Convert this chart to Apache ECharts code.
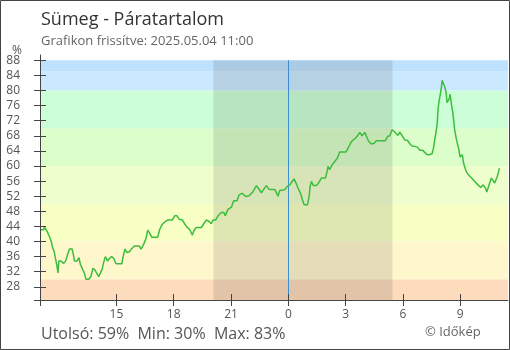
<!DOCTYPE html>
<html>
<head>
<meta charset="utf-8">
<script src="https://cdn.jsdelivr.net/npm/echarts@6/dist/echarts.min.js"></script>
<style>
html,body{margin:0;padding:0;background:#fff;}
#chart{width:510px;height:350px;}
</style>
</head>
<body>
<div id="chart"></div>
<script>
// Hours since 2025-05-03 11:00
const hours = [0,0.19,0.23,0.30,0.40,0.49,0.58,0.66,0.75,0.80,0.89,0.94,0.99,1.10,1.24,1.34,1.45,1.54,1.68,1.76,1.80,1.94,2.04,2.11,2.23,2.32,2.41,2.55,2.67,2.77,2.88,2.98,3.07,3.16,3.25,3.33,3.42,3.54,3.63,3.75,3.86,3.98,4.28,4.36,4.45,4.55,4.68,4.80,4.94,5.20,5.29,5.43,5.55,5.64,5.72,5.86,6.16,6.26,6.35,6.44,6.58,6.70,6.93,7.05,7.17,7.28,7.45,7.57,7.70,7.84,7.98,8.06,8.18,8.45,8.57,8.71,8.85,8.97,9.06,9.20,9.32,9.49,9.62,9.70,9.84,10.02,10.14,10.31,10.42,10.59,10.77,10.94,11.15,11.33,11.43,11.59,11.71,11.85,11.99,12.29,12.46,12.55,12.81,12.95,13.08,13.20,13.30,13.41,13.51,13.65,13.74,13.83,14.00,14.09,14.14,14.21,14.31,14.47,14.61,14.73,14.94,15.03,15.08,15.17,15.29,15.43,15.57,15.69,16.01,16.13,16.27,16.39,16.53,16.65,16.74,16.86,17.00,17.09,17.21,17.35,17.49,17.61,18.08,18.19,18.31,18.43,18.57,18.66,18.74,18.83,18.92,19.01,19.09,19.23,19.36,19.48,19.62,19.76,19.88,20.02,20.14,20.27,20.40,20.53,20.61,20.66,20.73,20.79,20.84,20.89,20.94,21.01,21.05,21.10,21.19,21.26,21.31,21.36,21.42,21.47,21.54,21.61,21.66,21.71,21.78,21.85,21.92,21.99,22.06,22.11,22.16,22.23,22.32,22.44,22.58,22.76,22.93,23.07,23.18,23.25,23.32,23.39,23.46,23.54,23.63,23.72,23.80,23.87,23.94,24.01,24.05];
const humidity = [43.1,43.1,43.8,43.5,42.4,41.3,40.2,38.4,37.2,35.7,33.5,31.7,34.8,34.8,34.2,34.8,36.6,38,38,36.2,34.8,34.8,35.7,34,32.6,31.7,30,30,30.8,32.9,32.4,31.9,30.7,30.8,32.6,34.4,36,34.8,35.5,36,35.5,34.1,34.1,36.2,38,37.1,37.3,38.1,38.8,38.8,38,39.3,40.8,43,42.4,41.1,41.1,43.1,44.1,44.8,45.3,45.7,45.7,46.8,46.8,45.9,45.7,44.7,43.8,43.1,41.7,42.9,43.7,43.7,44.7,45.7,45.3,44.7,45.7,45.7,46.8,47.7,47.7,46.8,48.5,49.1,50.8,50.8,52.3,52.8,51.9,52.1,53.2,54.8,54.1,52.9,53.8,54.8,53.8,53.8,52.0,53.5,53.7,54.6,55.0,55.9,56.6,55.4,54.1,52.6,51.0,49.7,49.7,51.9,54.6,55.9,54.8,54.8,55.7,56.8,56.8,58.5,59.9,59.0,60.3,61.2,62.1,63.7,63.7,64.7,66.2,66.9,67.4,68.2,68.9,68.0,68.9,68.5,66.5,65.8,66.0,66.7,66.7,67.8,68.0,69.6,69.0,68.8,68.1,69.0,68.8,67.6,66.9,66.8,65.9,65.3,65.2,65.0,64.2,64.2,63.6,63.0,63.0,63.3,65.0,66.8,68.9,71.1,75.0,77.2,78.5,80.7,82.7,82.0,81.0,79.4,76.8,76.3,77.7,79.0,76.3,74.2,72.0,69.4,67.6,65.9,64.6,62.4,62.7,63.0,61.1,59.8,58.5,57.6,56.9,55.9,55.0,54.3,55.0,55.5,54.2,53.1,54.2,55.5,56.8,56.3,55.5,55.2,57.2,58.5,59.4];

const yTicks = [28,32,36,40,44,48,52,56,60,64,68,72,76,80,84,88];
const xTickHours = [4,7,10,13,16,19,22];          // 15,18,21,0,3,6,9 o'clock
const xTickLabels = ['15','18','21','0','3','6','9'];
const bandEdges = [24.5,30,40,50,60,70,80,85,88];
const bandColors = ['#fcdcbd','#fff7cc','#f7ffc4','#effecd','#dcfecb','#ccffd8','#cbe9fe','#bee2fd'];
const nightStart = 9.08;   // 20:05
const nightEnd = 18.45;    // 05:27
const midnight = 13;

const Y_MIN = 24.5, Y_MAX = 89.4, X_MAX = 24.5;
const FONT = "'Open Sans', 'Noto Sans', sans-serif";

const chart = echarts.init(document.getElementById('chart'), null, {renderer:'canvas'});

const bandAreas = bandColors.map((c,i)=>[
  {yAxis: bandEdges[i], itemStyle:{color:c}},
  {yAxis: bandEdges[i+1]}
]);

const option = {
  animation:false,
  grid:{left:40, right:2, top:55, bottom:50, containLabel:false},
  xAxis:[{
    type:'value', min:0, max:X_MAX, z:20,
    axisLine:{show:true, lineStyle:{color:'#444', width:1}},
    axisTick:{show:true, length:6, customValues:[0].concat(xTickHours), lineStyle:{color:'#444'}},
    axisLabel:{show:true, customValues:xTickHours, margin:9, color:'#555', fontSize:12, fontFamily:FONT,
      formatter:(v)=>xTickLabels[xTickHours.indexOf(v)]},
    splitLine:{show:false}
  },{
    type:'value', min:0, max:X_MAX, position:'bottom', z:20,
    axisLine:{show:false},
    axisTick:{show:true, inside:true, length:6, customValues:xTickHours, lineStyle:{color:'#444'}},
    axisLabel:{show:false}, splitLine:{show:false}
  }],
  yAxis:[{
    type:'value', min:Y_MIN, max:Y_MAX, z:20,
    axisLine:{show:true, lineStyle:{color:'#444', width:1}},
    axisTick:{show:true, length:6, customValues:[Y_MIN].concat(yTicks), lineStyle:{color:'#444'}},
    axisLabel:{show:true, customValues:yTicks, margin:20, color:'#555', fontSize:12, fontFamily:FONT},
    splitLine:{show:false}
  },{
    type:'value', min:Y_MIN, max:Y_MAX, position:'left', offset:0, z:20,
    axisLine:{show:false},
    axisTick:{show:true, inside:true, length:6, customValues:yTicks, lineStyle:{color:'#444'}},
    axisLabel:{show:false}, splitLine:{show:false}
  }],
  series:[{
    type:'line', data:[], z:1, silent:true,
    markArea:{silent:true, data:bandAreas}
  },{
    type:'line', data:[], z:2, silent:true,
    markArea:{silent:true, itemStyle:{color:'rgba(0,0,0,0.1)'},
      data:[[{xAxis:nightStart, yAxis:bandEdges[0]},{xAxis:nightEnd, yAxis:bandEdges[bandEdges.length-1]}]]},
    markLine:{silent:true, symbol:['none','none'], label:{show:false},
      lineStyle:{color:'#3b8fd0', width:1, type:'solid'},
      data:[[{coord:[midnight, bandEdges[bandEdges.length-1]]},{coord:[midnight, bandEdges[0]]}]]}
  },{
    type:'line', z:5, showSymbol:false, symbol:'none',
    data: hours.map((h,i)=>[h, humidity[i]]),
    lineStyle:{color:'#3dbd3d', width:1.5},
    itemStyle:{color:'#3dbd3d'}
  }],
  graphic:[
    {type:'rect', shape:{x:0.5, y:0.5, width:509, height:349}, style:{fill:null, stroke:'#444', lineWidth:1}, z:100, silent:true},
    {type:'text', x:41, y:20, style:{text:'Sümeg - Páratartalom', font:"18px "+FONT, fill:'#333', verticalAlign:'middle'}},
    {type:'text', x:41, y:41, style:{text:'Grafikon frissítve: 2025.05.04 11:00', font:"13px "+FONT, fill:'#666', verticalAlign:'middle'}},
    {type:'text', x:17, y:51, style:{text:'%', font:"12px "+FONT, fill:'#555', align:'center', verticalAlign:'middle'}},
    {type:'text', x:41, y:334, style:{text:'Utolsó: 59%  Min: 30%  Max: 83%', font:"16px "+FONT, fill:'#555', verticalAlign:'middle'}},
    {type:'text', x:425, y:332, style:{text:'© Időkép', font:"13px "+FONT, fill:'#666', verticalAlign:'middle'}}
  ]
};
chart.setOption(option);
</script>
</body>
</html>
